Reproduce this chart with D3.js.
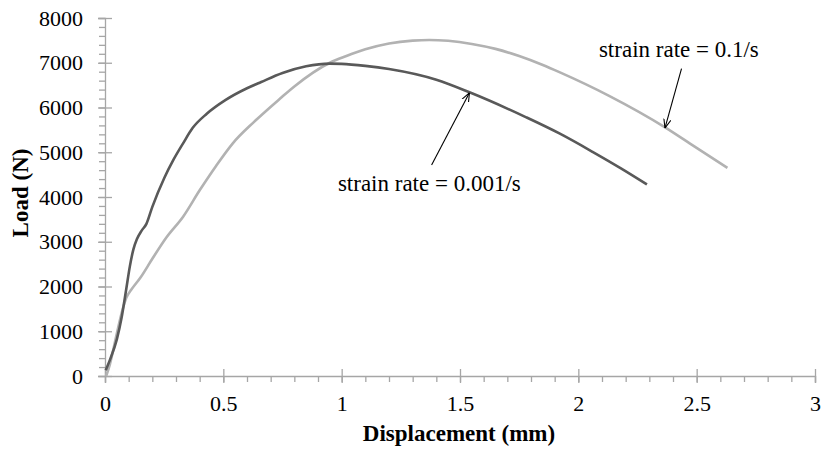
<!DOCTYPE html>
<html>
<head>
<meta charset="utf-8">
<script src="https://cdn.jsdelivr.net/npm/d3@7"></script>
<style>
  body { margin: 0; background: #fff; }
  .axis path, .axis line { stroke: #a6a6a6; stroke-width: 1.3px; }
  .axis text { font-family: "Liberation Serif", "Times New Roman", serif; font-size: 22px; fill: #000; }
</style>
</head>
<body>
<div id="content"></div>
<script>
// displacement (mm), load (N)
var slowRate = [[0.003,130],[0.02,350],[0.05,820],[0.07,1300],[0.09,1950],[0.105,2450],[0.12,2830],[0.135,3060],
    [0.155,3250],[0.175,3400],[0.2,3780],[0.25,4420],[0.29,4840],[0.33,5200],[0.37,5540],[0.43,5860],[0.51,6170],
    [0.6,6430],[0.66,6570],[0.75,6770],[0.85,6920],[0.95,6980],[1.0,6975],[1.1,6930],[1.2,6860],[1.4,6620],
    [1.54,6340],[1.78,5780],[1.92,5420],[2.06,5010],[2.18,4640],[2.29,4280]];
var fastRate = [[0.005,0],[0.02,250],[0.05,950],[0.075,1500],[0.09,1750],[0.11,1920],[0.15,2200],[0.2,2620],
    [0.26,3100],[0.33,3560],[0.4,4150],[0.47,4700],[0.54,5200],[0.63,5680],[0.74,6200],[0.8,6470],[0.95,7000],
    [1.02,7150],[1.1,7300],[1.2,7430],[1.3,7495],[1.37,7510],[1.45,7490],[1.55,7420],[1.65,7310],[1.75,7150],
    [1.85,6950],[1.92,6790],[2.13,6260],[2.37,5545],[2.49,5130],[2.63,4650]];
var xTicks = [0, 0.5, 1, 1.5, 2, 2.5, 3];
var yTicks = [0, 1000, 2000, 3000, 4000, 5000, 6000, 7000, 8000];
var xLabel = "Displacement (mm)";
var yLabel = "Load (N)";
// text anchor (x, y) and arrow from -> to, in data units
var notes = [
    {text: "strain rate = 0.1/s", x: 2.087, y: 7120, from: [2.436, 6870], to: [2.366, 5540]},
    {text: "strain rate = 0.001/s", x: 0.984, y: 4125, from: [1.380, 4714], to: [1.540, 6330]}
];

var svg = d3.select("#content").append("svg").attr("width", 822).attr("height", 450),
    margin = {top: 18, right: 7, bottom: 74, left: 105},
    width = +svg.attr("width") - margin.left - margin.right,
    height = +svg.attr("height") - margin.top - margin.bottom;

var x = d3.scaleLinear().domain([0, 3]).range([0, width]),
    y = d3.scaleLinear().domain([0, 8000]).range([height, 0]);

var g = svg.append("g")
    .attr("transform", "translate(" + margin.left + "," + margin.top + ")");

// minor ticks (outside)
g.append("g")
    .attr("class", "axis")
    .attr("transform", "translate(0," + height + ")")
    .call(d3.axisBottom(x).tickValues(d3.range(0, 3.01, 0.1)).tickSize(6).tickFormat(""))
    .select(".domain").remove();
g.append("g")
    .attr("class", "axis")
    .call(d3.axisLeft(y).tickValues(d3.range(0, 8001, 200)).tickSize(6).tickFormat(""))
    .select(".domain").remove();

// major ticks crossing the axis
var xAxis = g.append("g")
    .attr("class", "axis")
    .attr("transform", "translate(0," + height + ")")
    .call(d3.axisBottom(x).tickValues(xTicks).tickSizeOuter(0).tickSize(7).tickPadding(12)
        .tickFormat(d3.format("")));
xAxis.selectAll(".tick line").attr("y1", -7);

var yAxis = g.append("g")
    .attr("class", "axis")
    .call(d3.axisLeft(y).tickValues(yTicks).tickSizeOuter(0).tickSize(7).tickPadding(15)
        .tickFormat(d3.format("d")));
yAxis.selectAll(".tick line").attr("x1", 7);

var line = d3.line()
    .x(function(d) { return x(d[0]); })
    .y(function(d) { return y(d[1]); })
    .curve(d3.curveMonotoneX);

g.append("path")
    .datum(fastRate)
    .attr("fill", "none")
    .attr("stroke", "#b2b2b2")
    .attr("stroke-width", 2.6)
    .attr("d", line);

g.append("path")
    .datum(slowRate)
    .attr("fill", "none")
    .attr("stroke", "#595959")
    .attr("stroke-width", 2.6)
    .attr("d", line);

// open arrowhead
svg.append("defs").append("marker")
    .attr("id", "arrow")
    .attr("viewBox", "0 0 10 10")
    .attr("refX", 10).attr("refY", 5)
    .attr("markerWidth", 9).attr("markerHeight", 9)
    .attr("markerUnits", "userSpaceOnUse")
    .attr("orient", "auto")
    .append("path")
    .attr("d", "M0,1 L10,5 L0,9")
    .attr("fill", "none")
    .attr("stroke", "#000")
    .attr("stroke-width", 1.2);

var note = g.selectAll(".note")
    .data(notes)
    .enter().append("g")
    .attr("class", "note");

note.append("line")
    .attr("x1", function(d) { return x(d.from[0]); })
    .attr("y1", function(d) { return y(d.from[1]); })
    .attr("x2", function(d) { return x(d.to[0]); })
    .attr("y2", function(d) { return y(d.to[1]); })
    .attr("stroke", "#000")
    .attr("stroke-width", 1.1)
    .attr("marker-end", "url(#arrow)");

note.append("text")
    .attr("x", function(d) { return x(d.x); })
    .attr("y", function(d) { return y(d.y); })
    .style("font", "23px 'Liberation Serif', 'Times New Roman', serif")
    .text(function(d) { return d.text; });

svg.append("text")
    .attr("x", 459)
    .attr("y", 441)
    .attr("text-anchor", "middle")
    .style("font", "bold 23px 'Liberation Serif', 'Times New Roman', serif")
    .text(xLabel);

svg.append("text")
    .attr("transform", "translate(28,193) rotate(-90)")
    .attr("text-anchor", "middle")
    .style("font", "bold 23px 'Liberation Serif', 'Times New Roman', serif")
    .text(yLabel);
</script>
</body>
</html>
